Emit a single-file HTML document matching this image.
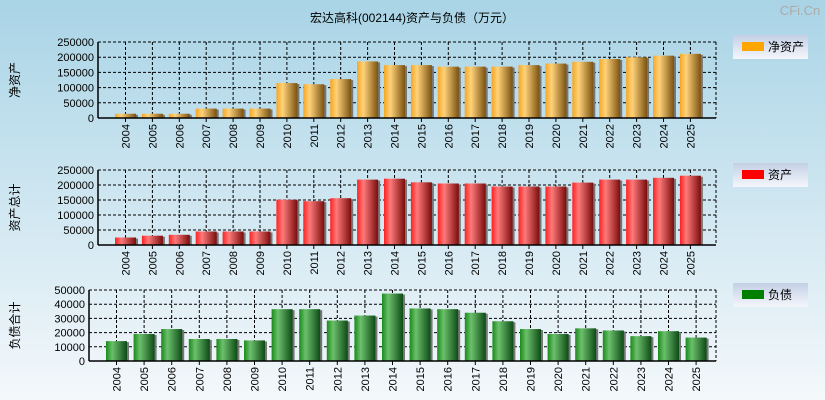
<!DOCTYPE html>
<html><head><meta charset="utf-8"><style>
body{margin:0;width:825px;height:400px;overflow:hidden;font-family:"Liberation Sans","Noto Sans CJK SC",sans-serif}
svg{display:block}
</style></head><body>
<svg id="c" width="825" height="400" xmlns="http://www.w3.org/2000/svg">
<defs>
<linearGradient id="bg" x1="0" y1="0" x2="0" y2="1"><stop offset="0" stop-color="#a9d4e6"/><stop offset="1" stop-color="#f4f8fb"/></linearGradient>
<linearGradient id="gO" x1="0" x2="1"><stop offset="0" stop-color="#f5a623"/><stop offset="0.3" stop-color="#ffd27a"/><stop offset="1" stop-color="#7a5210"/></linearGradient>
<linearGradient id="gR" x1="0" x2="1"><stop offset="0" stop-color="#ff2020"/><stop offset="0.3" stop-color="#ff7a7a"/><stop offset="1" stop-color="#7a0c0c"/></linearGradient>
<linearGradient id="gG" x1="0" x2="1"><stop offset="0" stop-color="#1a8a1a"/><stop offset="0.3" stop-color="#6cc06c"/><stop offset="1" stop-color="#0d4a16"/></linearGradient>
<linearGradient id="lg" x1="0" y1="0" x2="0" y2="1"><stop offset="0" stop-color="#c4d0e6"/><stop offset="1" stop-color="#f4f6fb"/></linearGradient>
</defs>
<rect width="825" height="400" fill="url(#bg)"/>
<text x="412" y="22" text-anchor="middle" font-size="12">宏达高科(002144)资产与负债（万元）</text>
<text x="800" y="15" text-anchor="middle" font-size="13" fill="#aaa">CFi.Cn</text>
<g id="plots"></g>
</svg>
<script>
const years=["2004","2005","2006","2007","2008","2009","2010","2011","2012","2013","2014","2015","2016","2017","2018","2019","2020","2021","2022","2023","2024","2025"];
const netAssets=[14000,14000,14000,31000,31000,31000,115000,111000,128000,186000,174000,174000,169000,169000,169000,174000,179000,185000,194000,200000,205000,211000];
const totalAssets=[25000,31000,34000,45000,45000,45000,151000,146000,156000,218000,221000,209000,205000,205000,195000,195000,195000,208000,218000,218000,224000,231000];
const liabilities=[14000,19000,22500,15500,15500,14500,36500,36500,28500,32000,47500,37000,36500,34000,28000,22500,19000,23000,21500,17500,21000,16500];
const ticks1=[0,50000,100000,150000,200000,250000];
const ticks3=[0,10000,20000,30000,40000,50000];
const NS="http://www.w3.org/2000/svg";
const root=document.getElementById('plots');
function mk(t,a,p){const e=document.createElementNS(NS,t);for(const k in a)e.setAttribute(k,a[k]);(p||root).appendChild(e);return e;}
function panel(cfg){
  const g=mk('g',{});
  
  
  const L=cfg.left,R=716,T=cfg.top,B=cfg.bottom,max=cfg.ticks[cfg.ticks.length-1];
  const y=v=>B-(v/max)*(B-T);
  const x=i=>cfg.x0+i*cfg.step;
  // grid
  cfg.ticks.forEach(t=>{
    if(t>0){const l=mk('line',{x1:L,x2:R,y1:y(t),y2:y(t),stroke:'#000','stroke-dasharray':'3,2'},g);}
    const tx=mk('text',{x:L-4,y:y(t)+4,'text-anchor':'end','font-size':'11'},g);tx.textContent=t;
    
    
  });
  years.forEach((yr,i)=>{
    const l=mk('line',{x1:x(i),x2:x(i),y1:T,y2:B,stroke:'#000','stroke-dasharray':'3,2'},g);
    
    
  });
  mk('line',{x1:R,x2:R,y1:T,y2:B,stroke:'#000','stroke-dasharray':'3,2'},g);
  mk('line',{x1:L,x2:R,y1:T,y2:T,stroke:'#000','stroke-dasharray':'3,2'},g);
  // bars
  cfg.data.forEach((v,i)=>{
    const bw=cfg.bw;
    mk('rect',{x:x(i)-bw/2+2,y:y(v)+1,width:bw,height:B-y(v)-1,fill:'#777'},g);
    const r=mk('rect',{x:x(i)-bw/2,y:y(v),width:bw,height:B-y(v),fill:cfg.grad},g);
    
    
  });
  // axes
  mk('line',{x1:L,x2:L,y1:T,y2:B,stroke:'#000','stroke-width':1.5},g);
  mk('line',{x1:L,x2:R,y1:B,y2:B,stroke:'#000','stroke-width':1.5},g);
  years.forEach((yr,i)=>{
    mk('line',{x1:x(i),x2:x(i),y1:B,y2:B+4,stroke:'#000'},g);
    const t=mk('text',{x:0,y:0,'font-size':'11','text-anchor':'end',transform:`translate(${x(i)+4},${B+6}) rotate(-90)`},g);
    t.textContent=yr;
    
    
  });
  const yt=mk('text',{x:0,y:0,'font-size':'12','text-anchor':'middle',transform:`translate(19,${(T+B)/2}) rotate(-90)`},g);
  yt.textContent=cfg.title;
  
  
  // legend
  const lgG=mk('g',{},g);
  
  
  mk('rect',{x:733,y:cfg.legY,width:75,height:24,fill:'url(#lg)'},lgG);
  mk('rect',{x:742,y:cfg.legY+7,width:22,height:9,fill:cfg.color},lgG);
  const lt=mk('text',{x:768,y:cfg.legY+16,'font-size':'12'},lgG);lt.textContent=cfg.legend;
}
panel({name:'net-assets',data:netAssets,ticks:ticks1,left:98,top:42,bottom:118,x0:125.5,step:26.9,bw:21,grad:'url(#gO)',color:'#ffa500',title:'净资产',legend:'净资产',legY:35});
panel({name:'total-assets',data:totalAssets,ticks:ticks1,left:98,top:170,bottom:245,x0:125.5,step:26.9,bw:21,grad:'url(#gR)',color:'#ff0000',title:'资产总计',legend:'资产',legY:163});
panel({name:'liabilities',data:liabilities,ticks:ticks3,left:89,top:290,bottom:361,x0:116.5,step:27.6,bw:21,grad:'url(#gG)',color:'#008000',title:'负债合计',legend:'负债',legY:283});
</script>
</body></html>
